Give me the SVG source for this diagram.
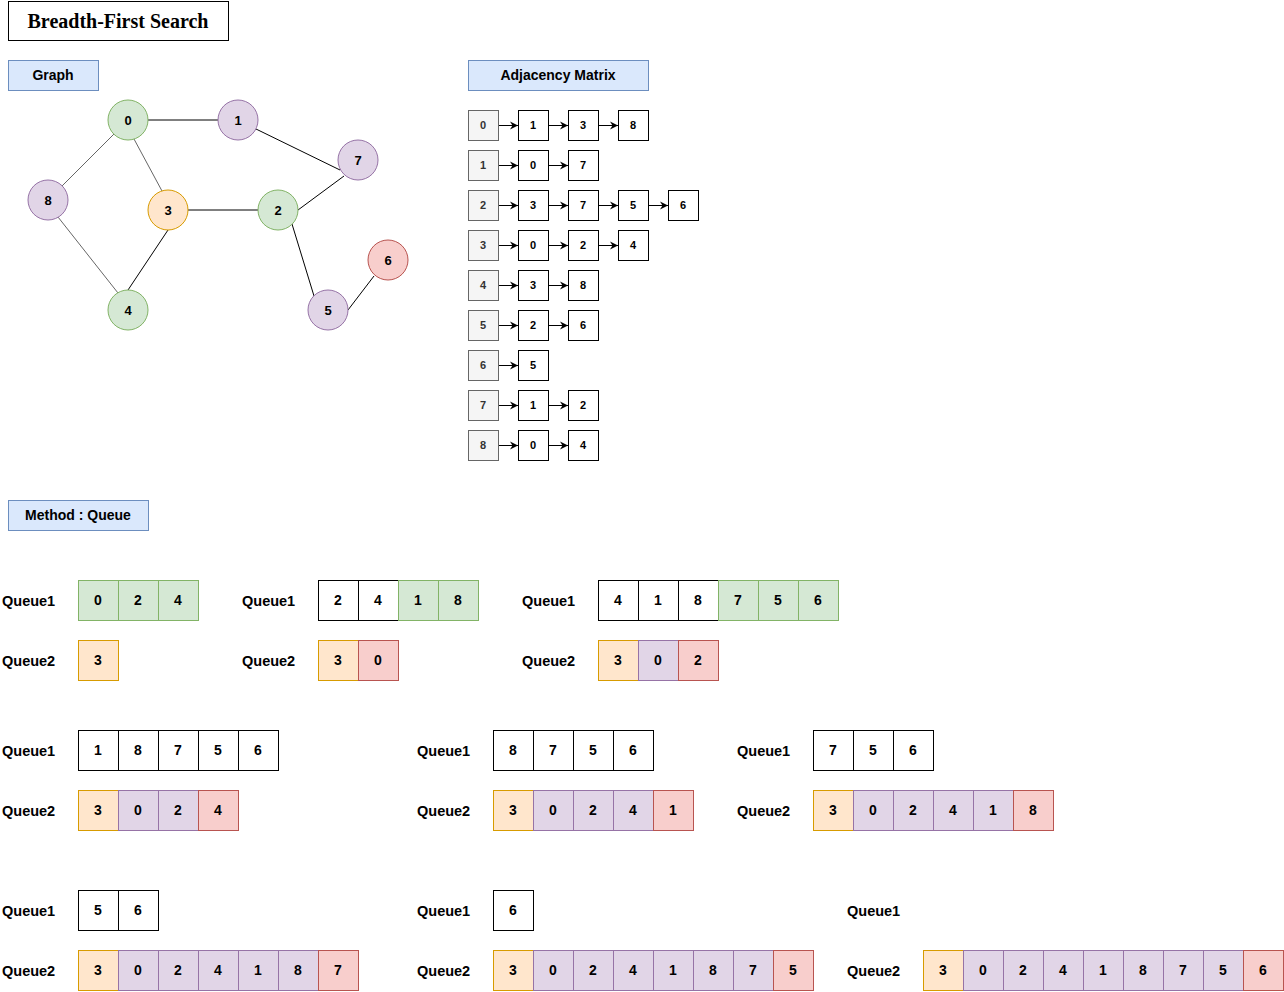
<svg xmlns="http://www.w3.org/2000/svg" width="1284" height="992" viewBox="0 0 1284 992">
<style>
text{font-family:"Liberation Sans",Arial,sans-serif;font-weight:bold;text-anchor:middle;dominant-baseline:central;fill:#000}
.title{font-family:"Liberation Serif","Times New Roman",serif;font-size:20px}
.sec rect{fill:#dae8fc;stroke:#6c8ebf}
.sec text{font-size:14px}
.gn text{font-size:13px}
.g{fill:#d5e8d4;stroke:#82b366}
.o{fill:#ffe6cc;stroke:#d79b00}
.p{fill:#e1d5e7;stroke:#9673a6}
.r{fill:#f8cecc;stroke:#b85450}
.w{fill:#fff;stroke:#000}
.h{fill:#f5f5f5;stroke:#666}
.adj text{font-size:11px}
.adj .ht{fill:#333}
.q text{font-size:14px}
.q .ql{text-anchor:start;font-size:14.5px}
.e line{stroke:#000;stroke-width:1}
.e .gr{stroke:#666}
.ar line{stroke:#000;stroke-width:1}
</style>
<defs>
<marker id="ah" markerWidth="10" markerHeight="10" refX="8" refY="4.5" orient="auto" markerUnits="userSpaceOnUse">
<path d="M0,0.5 L8,4.5 L0,8.5 L2.5,4.5 Z" fill="#000"/>
</marker>
</defs>
<rect width="1284" height="992" fill="#fff"/>
<g id="title"><rect x="8.5" y="1.5" width="220" height="39" fill="#fff" stroke="#000"/><text class="title" x="118" y="21">Breadth-First Search</text></g>
<g id="sec-graph" class="sec"><rect x="8.5" y="60.5" width="90" height="30"/><text x="53" y="75">Graph</text></g>
<g id="sec-adj" class="sec"><rect x="468.5" y="60.5" width="180" height="30"/><text x="558" y="75">Adjacency Matrix</text></g>
<g id="sec-method" class="sec"><rect x="8.5" y="500.5" width="140" height="30"/><text x="78" y="515">Method : Queue</text></g>

<g id="edges" class="e">
<line x1="148" y1="120" x2="218" y2="120"/>
<line x1="256" y1="129" x2="340" y2="170"/>
<line x1="114" y1="134" x2="62" y2="186" class="gr"/>
<line x1="134" y1="139" x2="162" y2="191" class="gr"/>
<line x1="58" y1="217" x2="118" y2="293" class="gr"/>
<line x1="168" y1="230" x2="128" y2="290"/>
<line x1="188" y1="210" x2="258" y2="210"/>
<line x1="298" y1="210" x2="344" y2="176"/>
<line x1="292" y1="224" x2="314" y2="296"/>
<line x1="348" y1="310" x2="374" y2="276"/>
</g>

<g class="gn">
<g id="n0"><circle cx="128" cy="120" r="20" class="g"/><text x="128" y="120">0</text></g>
<g id="n1"><circle cx="238" cy="120" r="20" class="p"/><text x="238" y="120">1</text></g>
<g id="n7"><circle cx="358" cy="160" r="20" class="p"/><text x="358" y="160">7</text></g>
<g id="n8"><circle cx="48" cy="200" r="20" class="p"/><text x="48" y="200">8</text></g>
<g id="n3"><circle cx="168" cy="210" r="20" class="o"/><text x="168" y="210">3</text></g>
<g id="n2"><circle cx="278" cy="210" r="20" class="g"/><text x="278" y="210">2</text></g>
<g id="n6"><circle cx="388" cy="260" r="20" class="r"/><text x="388" y="260">6</text></g>
<g id="n4"><circle cx="128" cy="310" r="20" class="g"/><text x="128" y="310">4</text></g>
<g id="n5"><circle cx="328" cy="310" r="20" class="p"/><text x="328" y="310">5</text></g>
</g>

<g id="adjacency" class="adj">
<g id="adj0"><rect x="468.5" y="110.5" width="30" height="30" class="h"/><text class="ht" x="483" y="125">0</text>
<rect x="518.5" y="110.5" width="30" height="30" class="w"/><text x="533" y="125">1</text>
<rect x="568.5" y="110.5" width="30" height="30" class="w"/><text x="583" y="125">3</text>
<rect x="618.5" y="110.5" width="30" height="30" class="w"/><text x="633" y="125">8</text></g>
<g id="adj1"><rect x="468.5" y="150.5" width="30" height="30" class="h"/><text class="ht" x="483" y="165">1</text>
<rect x="518.5" y="150.5" width="30" height="30" class="w"/><text x="533" y="165">0</text>
<rect x="568.5" y="150.5" width="30" height="30" class="w"/><text x="583" y="165">7</text></g>
<g id="adj2"><rect x="468.5" y="190.5" width="30" height="30" class="h"/><text class="ht" x="483" y="205">2</text>
<rect x="518.5" y="190.5" width="30" height="30" class="w"/><text x="533" y="205">3</text>
<rect x="568.5" y="190.5" width="30" height="30" class="w"/><text x="583" y="205">7</text>
<rect x="618.5" y="190.5" width="30" height="30" class="w"/><text x="633" y="205">5</text>
<rect x="668.5" y="190.5" width="30" height="30" class="w"/><text x="683" y="205">6</text></g>
<g id="adj3"><rect x="468.5" y="230.5" width="30" height="30" class="h"/><text class="ht" x="483" y="245">3</text>
<rect x="518.5" y="230.5" width="30" height="30" class="w"/><text x="533" y="245">0</text>
<rect x="568.5" y="230.5" width="30" height="30" class="w"/><text x="583" y="245">2</text>
<rect x="618.5" y="230.5" width="30" height="30" class="w"/><text x="633" y="245">4</text></g>
<g id="adj4"><rect x="468.5" y="270.5" width="30" height="30" class="h"/><text class="ht" x="483" y="285">4</text>
<rect x="518.5" y="270.5" width="30" height="30" class="w"/><text x="533" y="285">3</text>
<rect x="568.5" y="270.5" width="30" height="30" class="w"/><text x="583" y="285">8</text></g>
<g id="adj5"><rect x="468.5" y="310.5" width="30" height="30" class="h"/><text class="ht" x="483" y="325">5</text>
<rect x="518.5" y="310.5" width="30" height="30" class="w"/><text x="533" y="325">2</text>
<rect x="568.5" y="310.5" width="30" height="30" class="w"/><text x="583" y="325">6</text></g>
<g id="adj6"><rect x="468.5" y="350.5" width="30" height="30" class="h"/><text class="ht" x="483" y="365">6</text>
<rect x="518.5" y="350.5" width="30" height="30" class="w"/><text x="533" y="365">5</text></g>
<g id="adj7"><rect x="468.5" y="390.5" width="30" height="30" class="h"/><text class="ht" x="483" y="405">7</text>
<rect x="518.5" y="390.5" width="30" height="30" class="w"/><text x="533" y="405">1</text>
<rect x="568.5" y="390.5" width="30" height="30" class="w"/><text x="583" y="405">2</text></g>
<g id="adj8"><rect x="468.5" y="430.5" width="30" height="30" class="h"/><text class="ht" x="483" y="445">8</text>
<rect x="518.5" y="430.5" width="30" height="30" class="w"/><text x="533" y="445">0</text>
<rect x="568.5" y="430.5" width="30" height="30" class="w"/><text x="583" y="445">4</text></g>
</g>

<g id="adj-arrows" class="ar">
<line x1="499" y1="125.5" x2="518" y2="125.5" marker-end="url(#ah)"/>
<line x1="549" y1="125.5" x2="568" y2="125.5" marker-end="url(#ah)"/>
<line x1="599" y1="125.5" x2="618" y2="125.5" marker-end="url(#ah)"/>
<line x1="499" y1="165.5" x2="518" y2="165.5" marker-end="url(#ah)"/>
<line x1="549" y1="165.5" x2="568" y2="165.5" marker-end="url(#ah)"/>
<line x1="499" y1="205.5" x2="518" y2="205.5" marker-end="url(#ah)"/>
<line x1="549" y1="205.5" x2="568" y2="205.5" marker-end="url(#ah)"/>
<line x1="599" y1="205.5" x2="618" y2="205.5" marker-end="url(#ah)"/>
<line x1="649" y1="205.5" x2="668" y2="205.5" marker-end="url(#ah)"/>
<line x1="499" y1="245.5" x2="518" y2="245.5" marker-end="url(#ah)"/>
<line x1="549" y1="245.5" x2="568" y2="245.5" marker-end="url(#ah)"/>
<line x1="599" y1="245.5" x2="618" y2="245.5" marker-end="url(#ah)"/>
<line x1="499" y1="285.5" x2="518" y2="285.5" marker-end="url(#ah)"/>
<line x1="549" y1="285.5" x2="568" y2="285.5" marker-end="url(#ah)"/>
<line x1="499" y1="325.5" x2="518" y2="325.5" marker-end="url(#ah)"/>
<line x1="549" y1="325.5" x2="568" y2="325.5" marker-end="url(#ah)"/>
<line x1="499" y1="365.5" x2="518" y2="365.5" marker-end="url(#ah)"/>
<line x1="499" y1="405.5" x2="518" y2="405.5" marker-end="url(#ah)"/>
<line x1="549" y1="405.5" x2="568" y2="405.5" marker-end="url(#ah)"/>
<line x1="499" y1="445.5" x2="518" y2="445.5" marker-end="url(#ah)"/>
<line x1="549" y1="445.5" x2="568" y2="445.5" marker-end="url(#ah)"/>
</g>

<g id="queues" class="q">
<g id="s1">
<text class="ql" x="2" y="601">Queue1</text>
<rect x="78.5" y="580.5" width="40" height="40" class="g"/><text x="98" y="600">0</text>
<rect x="118.5" y="580.5" width="40" height="40" class="g"/><text x="138" y="600">2</text>
<rect x="158.5" y="580.5" width="40" height="40" class="g"/><text x="178" y="600">4</text>
<text class="ql" x="2" y="661">Queue2</text>
<rect x="78.5" y="640.5" width="40" height="40" class="o"/><text x="98" y="660">3</text>
</g>
<g id="s2">
<text class="ql" x="242" y="601">Queue1</text>
<rect x="318.5" y="580.5" width="40" height="40" class="w"/><text x="338" y="600">2</text>
<rect x="358.5" y="580.5" width="40" height="40" class="w"/><text x="378" y="600">4</text>
<rect x="398.5" y="580.5" width="40" height="40" class="g"/><text x="418" y="600">1</text>
<rect x="438.5" y="580.5" width="40" height="40" class="g"/><text x="458" y="600">8</text>
<text class="ql" x="242" y="661">Queue2</text>
<rect x="318.5" y="640.5" width="40" height="40" class="o"/><text x="338" y="660">3</text>
<rect x="358.5" y="640.5" width="40" height="40" class="r"/><text x="378" y="660">0</text>
</g>
<g id="s3">
<text class="ql" x="522" y="601">Queue1</text>
<rect x="598.5" y="580.5" width="40" height="40" class="w"/><text x="618" y="600">4</text>
<rect x="638.5" y="580.5" width="40" height="40" class="w"/><text x="658" y="600">1</text>
<rect x="678.5" y="580.5" width="40" height="40" class="w"/><text x="698" y="600">8</text>
<rect x="718.5" y="580.5" width="40" height="40" class="g"/><text x="738" y="600">7</text>
<rect x="758.5" y="580.5" width="40" height="40" class="g"/><text x="778" y="600">5</text>
<rect x="798.5" y="580.5" width="40" height="40" class="g"/><text x="818" y="600">6</text>
<text class="ql" x="522" y="661">Queue2</text>
<rect x="598.5" y="640.5" width="40" height="40" class="o"/><text x="618" y="660">3</text>
<rect x="638.5" y="640.5" width="40" height="40" class="p"/><text x="658" y="660">0</text>
<rect x="678.5" y="640.5" width="40" height="40" class="r"/><text x="698" y="660">2</text>
</g>
<g id="s4">
<text class="ql" x="2" y="751">Queue1</text>
<rect x="78.5" y="730.5" width="40" height="40" class="w"/><text x="98" y="750">1</text>
<rect x="118.5" y="730.5" width="40" height="40" class="w"/><text x="138" y="750">8</text>
<rect x="158.5" y="730.5" width="40" height="40" class="w"/><text x="178" y="750">7</text>
<rect x="198.5" y="730.5" width="40" height="40" class="w"/><text x="218" y="750">5</text>
<rect x="238.5" y="730.5" width="40" height="40" class="w"/><text x="258" y="750">6</text>
<text class="ql" x="2" y="811">Queue2</text>
<rect x="78.5" y="790.5" width="40" height="40" class="o"/><text x="98" y="810">3</text>
<rect x="118.5" y="790.5" width="40" height="40" class="p"/><text x="138" y="810">0</text>
<rect x="158.5" y="790.5" width="40" height="40" class="p"/><text x="178" y="810">2</text>
<rect x="198.5" y="790.5" width="40" height="40" class="r"/><text x="218" y="810">4</text>
</g>
<g id="s5">
<text class="ql" x="417" y="751">Queue1</text>
<rect x="493.5" y="730.5" width="40" height="40" class="w"/><text x="513" y="750">8</text>
<rect x="533.5" y="730.5" width="40" height="40" class="w"/><text x="553" y="750">7</text>
<rect x="573.5" y="730.5" width="40" height="40" class="w"/><text x="593" y="750">5</text>
<rect x="613.5" y="730.5" width="40" height="40" class="w"/><text x="633" y="750">6</text>
<text class="ql" x="417" y="811">Queue2</text>
<rect x="493.5" y="790.5" width="40" height="40" class="o"/><text x="513" y="810">3</text>
<rect x="533.5" y="790.5" width="40" height="40" class="p"/><text x="553" y="810">0</text>
<rect x="573.5" y="790.5" width="40" height="40" class="p"/><text x="593" y="810">2</text>
<rect x="613.5" y="790.5" width="40" height="40" class="p"/><text x="633" y="810">4</text>
<rect x="653.5" y="790.5" width="40" height="40" class="r"/><text x="673" y="810">1</text>
</g>
<g id="s6">
<text class="ql" x="737" y="751">Queue1</text>
<rect x="813.5" y="730.5" width="40" height="40" class="w"/><text x="833" y="750">7</text>
<rect x="853.5" y="730.5" width="40" height="40" class="w"/><text x="873" y="750">5</text>
<rect x="893.5" y="730.5" width="40" height="40" class="w"/><text x="913" y="750">6</text>
<text class="ql" x="737" y="811">Queue2</text>
<rect x="813.5" y="790.5" width="40" height="40" class="o"/><text x="833" y="810">3</text>
<rect x="853.5" y="790.5" width="40" height="40" class="p"/><text x="873" y="810">0</text>
<rect x="893.5" y="790.5" width="40" height="40" class="p"/><text x="913" y="810">2</text>
<rect x="933.5" y="790.5" width="40" height="40" class="p"/><text x="953" y="810">4</text>
<rect x="973.5" y="790.5" width="40" height="40" class="p"/><text x="993" y="810">1</text>
<rect x="1013.5" y="790.5" width="40" height="40" class="r"/><text x="1033" y="810">8</text>
</g>
<g id="s7">
<text class="ql" x="2" y="911">Queue1</text>
<rect x="78.5" y="890.5" width="40" height="40" class="w"/><text x="98" y="910">5</text>
<rect x="118.5" y="890.5" width="40" height="40" class="w"/><text x="138" y="910">6</text>
<text class="ql" x="2" y="971">Queue2</text>
<rect x="78.5" y="950.5" width="40" height="40" class="o"/><text x="98" y="970">3</text>
<rect x="118.5" y="950.5" width="40" height="40" class="p"/><text x="138" y="970">0</text>
<rect x="158.5" y="950.5" width="40" height="40" class="p"/><text x="178" y="970">2</text>
<rect x="198.5" y="950.5" width="40" height="40" class="p"/><text x="218" y="970">4</text>
<rect x="238.5" y="950.5" width="40" height="40" class="p"/><text x="258" y="970">1</text>
<rect x="278.5" y="950.5" width="40" height="40" class="p"/><text x="298" y="970">8</text>
<rect x="318.5" y="950.5" width="40" height="40" class="r"/><text x="338" y="970">7</text>
</g>
<g id="s8">
<text class="ql" x="417" y="911">Queue1</text>
<rect x="493.5" y="890.5" width="40" height="40" class="w"/><text x="513" y="910">6</text>
<text class="ql" x="417" y="971">Queue2</text>
<rect x="493.5" y="950.5" width="40" height="40" class="o"/><text x="513" y="970">3</text>
<rect x="533.5" y="950.5" width="40" height="40" class="p"/><text x="553" y="970">0</text>
<rect x="573.5" y="950.5" width="40" height="40" class="p"/><text x="593" y="970">2</text>
<rect x="613.5" y="950.5" width="40" height="40" class="p"/><text x="633" y="970">4</text>
<rect x="653.5" y="950.5" width="40" height="40" class="p"/><text x="673" y="970">1</text>
<rect x="693.5" y="950.5" width="40" height="40" class="p"/><text x="713" y="970">8</text>
<rect x="733.5" y="950.5" width="40" height="40" class="p"/><text x="753" y="970">7</text>
<rect x="773.5" y="950.5" width="40" height="40" class="r"/><text x="793" y="970">5</text>
</g>
<g id="s9">
<text class="ql" x="847" y="911">Queue1</text>
<text class="ql" x="847" y="971">Queue2</text>
<rect x="923.5" y="950.5" width="40" height="40" class="o"/><text x="943" y="970">3</text>
<rect x="963.5" y="950.5" width="40" height="40" class="p"/><text x="983" y="970">0</text>
<rect x="1003.5" y="950.5" width="40" height="40" class="p"/><text x="1023" y="970">2</text>
<rect x="1043.5" y="950.5" width="40" height="40" class="p"/><text x="1063" y="970">4</text>
<rect x="1083.5" y="950.5" width="40" height="40" class="p"/><text x="1103" y="970">1</text>
<rect x="1123.5" y="950.5" width="40" height="40" class="p"/><text x="1143" y="970">8</text>
<rect x="1163.5" y="950.5" width="40" height="40" class="p"/><text x="1183" y="970">7</text>
<rect x="1203.5" y="950.5" width="40" height="40" class="p"/><text x="1223" y="970">5</text>
<rect x="1243.5" y="950.5" width="40" height="40" class="r"/><text x="1263" y="970">6</text>
</g>
</g>
</svg>
